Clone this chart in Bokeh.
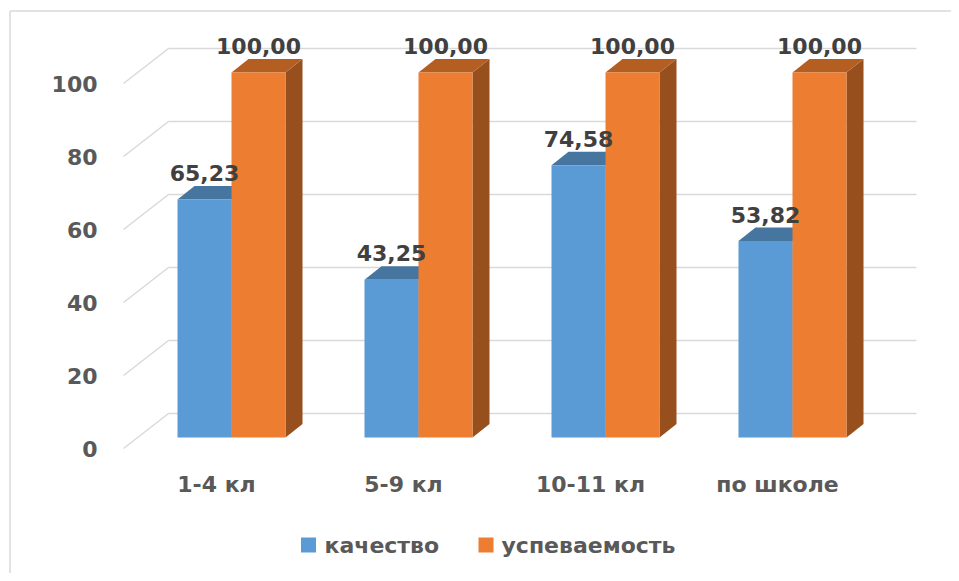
from bokeh.plotting import figure
from bokeh.models import Range1d
from bokeh.core.properties import value
from bokeh.embed import file_html
from bokeh.resources import INLINE

categories = ["1-4 кл", "5-9 кл", "10-11 кл", "по школе"]
kachestvo = [65.23, 43.25, 74.58, 53.82]
uspevaemost = [100.00, 100.00, 100.00, 100.00]
series_names = ["качество", "успеваемость"]
y_ticks = [0, 20, 40, 60, 80, 100]

FONT = value("DejaVu Sans")
GRID = "#D9D9D9"
BLUE_FRONT, BLUE_TOP, BLUE_SIDE = "#5B9BD5", "#4675A0", "#3E6A94"
OR_FRONT, OR_TOP, OR_SIDE = "#ED7D31", "#B55E22", "#984F1E"

# 3D projection constants (data units)
PXX, PXY = 187.0, 3.65          # px per x unit, px per y unit
BW = 54 / PXX                    # bar width
DX, DY = 17 / PXX, 13.5 / PXY    # bar depth offset
WALL_BACK_Y = 24 / PXY           # back wall floor offset
WALL_FRONT_Y = -11 / PXY         # front edge offset
X_FRONT = (123 - 231) / PXX
X_BACK = (168 - 231) / PXX
X_END = (916 - 231) / PXX

W, H = 951, 573
x0 = (0 - 231) / PXX
x1 = x0 + W / PXX
y1 = (437 - 0) / PXY
y0 = y1 - H / PXY

p = figure(width=W, height=H, x_range=Range1d(x0, x1), y_range=Range1d(y0, y1),
           output_backend="svg", toolbar_location=None, min_border=0)
p.axis.visible = False
p.grid.visible = False
p.outline_line_color = None
p.background_fill_color = "white"

# outer border (top and left)
bx = (9.5 - 231) / PXX
by = (437 - 10.5) / PXY
p.line([bx, x1], [by, by], line_color=GRID, line_width=1.5)
p.line([bx, bx], [by, y0], line_color=GRID, line_width=1.5)

# back wall gridlines and side wall diagonals
for t in y_ticks:
    p.line([X_BACK, X_END], [t + WALL_BACK_Y, t + WALL_BACK_Y], line_color=GRID, line_width=1.5)
    p.line([X_FRONT, X_BACK], [t + WALL_FRONT_Y, t + WALL_BACK_Y], line_color=GRID, line_width=1.5)

# tick labels
p.text(x=[(97 - 231) / PXX] * len(y_ticks), y=[t + WALL_FRONT_Y for t in y_ticks],
       text=[str(t) for t in y_ticks], text_align="right", text_baseline="middle",
       text_font=FONT, text_font_style="bold", text_font_size="22px", text_color="#595959")

def bar3d(xl, v, front, top, side):
    xr = xl + BW
    p.patch([xr, xr + DX, xr + DX, xr], [0, DY, v + DY, v], fill_color=side, line_color=None)
    p.patch([xl, xr, xr + DX, xl + DX], [v, v, v + DY, v + DY], fill_color=top, line_color=None)
    p.quad(left=[xl], right=[xr], bottom=[0], top=[v], fill_color=front, line_color=None)

for i, (a, b) in enumerate(zip(kachestvo, uspevaemost)):
    bar3d(i - BW, a, BLUE_FRONT, BLUE_TOP, BLUE_SIDE)
    bar3d(i, b, OR_FRONT, OR_TOP, OR_SIDE)

# data labels
lab_x, lab_y, lab_t = [], [], []
for i, (a, b) in enumerate(zip(kachestvo, uspevaemost)):
    for xc, v in ((i - BW / 2, a), (i + BW / 2, b)):
        lab_x.append(xc)
        lab_y.append(v + DY + 13 / PXY)
        lab_t.append(f"{v:.2f}".replace(".", ","))
p.text(x=lab_x, y=lab_y, text=lab_t, text_align="center", text_baseline="middle",
       text_font=FONT, text_font_style="bold", text_font_size="22px", text_color="#404040")

# category labels
p.text(x=[i - 15 / PXX for i in range(len(categories))], y=[(437 - 484) / PXY] * len(categories),
       text=categories, text_align="center", text_baseline="middle",
       text_font=FONT, text_font_style="bold", text_font_size="22px", text_color="#595959")

# legend
ly = (437 - 544.5) / PXY
p.scatter(x=[(308 - 231) / PXX, (485.5 - 231) / PXX], y=[ly, ly], marker="square", size=15,
          fill_color=[BLUE_FRONT, OR_FRONT], line_color=None)
p.text(x=[(324 - 231) / PXX, (501 - 231) / PXX], y=[ly, ly], text=series_names,
       text_align="left", text_baseline="middle",
       text_font=FONT, text_font_style="bold", text_font_size="22px", text_color="#595959")

open("out.html", "w").write(file_html(p, INLINE))
